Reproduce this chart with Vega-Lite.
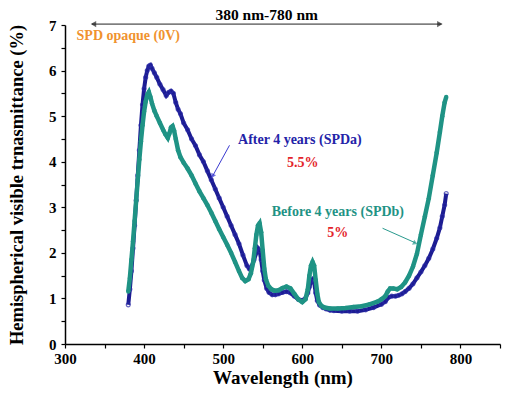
{
  "$schema": "https://vega.github.io/schema/vega-lite/v6.json",
  "width": 435,
  "height": 319,
  "autosize": "none",
  "padding": {"left": 65, "top": 25, "right": 8, "bottom": 52},
  "background": "white",
  "config": {"view": {"stroke": null}, "font": "Liberation Serif"},
  "datasets": {
    "spda": [
      {"wl":380,"t":0.86},{"wl":382,"t":1.2},{"wl":384,"t":1.6},{"wl":386,"t":2.1},{"wl":388,"t":2.6},{"wl":390,"t":3.15},{"wl":392,"t":3.7},{"wl":394,"t":4.25},{"wl":396,"t":4.8},{"wl":398,"t":5.25},{"wl":400,"t":5.6},{"wl":402,"t":5.85},{"wl":404,"t":6.0},{"wl":406,"t":6.1},{"wl":408,"t":6.12},{"wl":410,"t":6.05},{"wl":413,"t":5.95},{"wl":416,"t":5.85},{"wl":420,"t":5.7},{"wl":424,"t":5.58},{"wl":428,"t":5.45},{"wl":431,"t":5.52},{"wl":434,"t":5.55},{"wl":437,"t":5.5},{"wl":440,"t":5.3},{"wl":443,"t":5.15},{"wl":446,"t":5.05},{"wl":450,"t":4.85},{"wl":455,"t":4.7},{"wl":460,"t":4.5},{"wl":465,"t":4.35},{"wl":470,"t":4.15},{"wl":475,"t":4.0},{"wl":480,"t":3.8},{"wl":485,"t":3.6},{"wl":490,"t":3.4},{"wl":495,"t":3.2},{"wl":500,"t":3.0},{"wl":505,"t":2.8},{"wl":510,"t":2.6},{"wl":515,"t":2.4},{"wl":520,"t":2.2},{"wl":525,"t":1.95},{"wl":530,"t":1.72},{"wl":533,"t":1.65},{"wl":536,"t":1.7},{"wl":539,"t":1.85},{"wl":542,"t":2.0},{"wl":544,"t":2.1},{"wl":546,"t":2.05},{"wl":548,"t":1.85},{"wl":550,"t":1.6},{"wl":552,"t":1.4},{"wl":555,"t":1.22},{"wl":558,"t":1.13},{"wl":562,"t":1.08},{"wl":566,"t":1.08},{"wl":570,"t":1.1},{"wl":575,"t":1.13},{"wl":580,"t":1.15},{"wl":585,"t":1.12},{"wl":590,"t":1.05},{"wl":595,"t":0.98},{"wl":600,"t":0.96},{"wl":604,"t":1.0},{"wl":607,"t":1.12},{"wl":609,"t":1.25},{"wl":611,"t":1.38},{"wl":613,"t":1.42},{"wl":615,"t":1.35},{"wl":617,"t":1.12},{"wl":619,"t":0.95},{"wl":622,"t":0.85},{"wl":626,"t":0.8},{"wl":630,"t":0.77},{"wl":635,"t":0.74},{"wl":640,"t":0.73},{"wl":650,"t":0.72},{"wl":660,"t":0.72},{"wl":670,"t":0.72},{"wl":680,"t":0.75},{"wl":690,"t":0.8},{"wl":700,"t":0.87},{"wl":705,"t":0.93},{"wl":709,"t":1.02},{"wl":713,"t":1.05},{"wl":718,"t":1.05},{"wl":722,"t":1.07},{"wl":726,"t":1.1},{"wl":730,"t":1.15},{"wl":735,"t":1.22},{"wl":740,"t":1.32},{"wl":745,"t":1.45},{"wl":750,"t":1.58},{"wl":755,"t":1.72},{"wl":760,"t":1.88},{"wl":765,"t":2.08},{"wl":770,"t":2.32},{"wl":774,"t":2.55},{"wl":777,"t":2.8},{"wl":780,"t":3.05},{"wl":782,"t":3.3}
    ],
    "spdb": [
      {"wl":380,"t":1.15},{"wl":382,"t":1.45},{"wl":384,"t":1.85},{"wl":386,"t":2.25},{"wl":388,"t":2.7},{"wl":390,"t":3.15},{"wl":392,"t":3.6},{"wl":394,"t":4.05},{"wl":396,"t":4.45},{"wl":398,"t":4.8},{"wl":400,"t":5.1},{"wl":402,"t":5.32},{"wl":404,"t":5.47},{"wl":406,"t":5.53},{"wl":408,"t":5.42},{"wl":410,"t":5.28},{"wl":413,"t":5.12},{"wl":416,"t":5.0},{"wl":420,"t":4.85},{"wl":424,"t":4.7},{"wl":427,"t":4.6},{"wl":430,"t":4.52},{"wl":432,"t":4.62},{"wl":434,"t":4.75},{"wl":436,"t":4.78},{"wl":438,"t":4.68},{"wl":440,"t":4.5},{"wl":443,"t":4.25},{"wl":446,"t":4.1},{"wl":450,"t":3.98},{"wl":455,"t":3.85},{"wl":460,"t":3.7},{"wl":465,"t":3.52},{"wl":470,"t":3.35},{"wl":475,"t":3.2},{"wl":480,"t":3.05},{"wl":485,"t":2.88},{"wl":490,"t":2.7},{"wl":495,"t":2.52},{"wl":500,"t":2.35},{"wl":505,"t":2.18},{"wl":510,"t":2.0},{"wl":515,"t":1.8},{"wl":520,"t":1.6},{"wl":524,"t":1.45},{"wl":528,"t":1.38},{"wl":532,"t":1.42},{"wl":535,"t":1.55},{"wl":538,"t":1.8},{"wl":540,"t":2.1},{"wl":542,"t":2.4},{"wl":544,"t":2.6},{"wl":546,"t":2.65},{"wl":548,"t":2.45},{"wl":550,"t":2.05},{"wl":552,"t":1.65},{"wl":554,"t":1.42},{"wl":557,"t":1.28},{"wl":561,"t":1.2},{"wl":565,"t":1.17},{"wl":570,"t":1.18},{"wl":575,"t":1.23},{"wl":580,"t":1.26},{"wl":585,"t":1.22},{"wl":590,"t":1.1},{"wl":595,"t":0.98},{"wl":600,"t":0.92},{"wl":604,"t":0.98},{"wl":607,"t":1.2},{"wl":609,"t":1.5},{"wl":611,"t":1.72},{"wl":613,"t":1.8},{"wl":615,"t":1.72},{"wl":617,"t":1.4},{"wl":619,"t":1.1},{"wl":621,"t":0.92},{"wl":624,"t":0.84},{"wl":628,"t":0.8},{"wl":635,"t":0.78},{"wl":645,"t":0.78},{"wl":655,"t":0.79},{"wl":665,"t":0.81},{"wl":675,"t":0.83},{"wl":685,"t":0.87},{"wl":695,"t":0.93},{"wl":700,"t":0.98},{"wl":705,"t":1.05},{"wl":708,"t":1.15},{"wl":711,"t":1.22},{"wl":715,"t":1.22},{"wl":720,"t":1.2},{"wl":725,"t":1.25},{"wl":730,"t":1.35},{"wl":735,"t":1.5},{"wl":740,"t":1.7},{"wl":745,"t":1.98},{"wl":750,"t":2.4},{"wl":755,"t":2.8},{"wl":760,"t":3.2},{"wl":765,"t":3.7},{"wl":770,"t":4.2},{"wl":774,"t":4.65},{"wl":777,"t":5.0},{"wl":780,"t":5.3},{"wl":782,"t":5.42}
    ],
    "arrows": [
      {"id":"range","wl":334,"t":7.02,"wl2":776,"t2":7.02},
      {"id":"a","wl":508,"t":4.36,"wl2":486.5,"t2":3.68},
      {"id":"b","wl":701.5,"t":2.54,"wl2":743,"t2":2.22}
    ],
    "heads": [
      {"id":"left","wl":336,"t":7.02},
      {"id":"right","wl":774,"t":7.02},
      {"id":"a","wl":487,"t":3.7},
      {"id":"b","wl":742,"t":2.22}
    ],
    "labels": [
      {"kind":"range","label":"380 nm-780 nm","wl":555,"t":7.21},
      {"kind":"opaque","label":"SPD opaque (0V)","wl":380,"t":6.75},
      {"kind":"a","label":"After 4 years (SPDa)","wl":597,"t":4.47},
      {"kind":"pct","label":"5.5%","wl":600.5,"t":3.97},
      {"kind":"b","label":"Before 4 years (SPDb)","wl":645,"t":2.9},
      {"kind":"pct","label":"5%","wl":644.7,"t":2.43}
    ]
  },
  "encoding": {
    "x": {
      "field": "wl", "type": "quantitative",
      "scale": {"domain": [300, 850], "nice": false, "zero": false},
      "axis": {
        "title": "Wavelength (nm)",
        "values": [300,350,400,450,500,550,600,650,700,750,800,850],
        "labelExpr": "datum.value % 100 === 0 ? format(datum.value, 'd') : ''",
        "grid": false, "domainColor": "black", "domainWidth": 1.5,
        "tickColor": "black", "tickWidth": 1.2, "tickSize": 4,
        "labelFont": "Liberation Serif", "labelFontWeight": "bold", "labelFontSize": 15, "labelColor": "black",
        "labelPadding": 3, "labelFlush": false,
        "titleFont": "Liberation Serif", "titleFontWeight": "bold", "titleFontSize": 19, "titleColor": "black",
        "titlePadding": 2
      }
    },
    "y": {
      "field": "t", "type": "quantitative",
      "scale": {"domain": [0, 7], "nice": false},
      "axis": {
        "title": "Hemispherical visible trnasmittance (%)",
        "values": [0,0.5,1,1.5,2,2.5,3,3.5,4,4.5,5,5.5,6,6.5,7],
        "labelExpr": "datum.value % 1 === 0 ? format(datum.value, 'd') : ''",
        "grid": false, "domainColor": "black", "domainWidth": 1.5,
        "tickColor": "black", "tickWidth": 1.2, "tickSize": 4,
        "labelFont": "Liberation Serif", "labelFontWeight": "bold", "labelFontSize": 15, "labelColor": "black",
        "labelPadding": 5, "labelFlush": false,
        "titleFont": "Liberation Serif", "titleFontWeight": "bold", "titleFontSize": 18.5, "titleColor": "black",
        "titlePadding": 22
      }
    }
  },
  "layer": [
    {"data": {"name": "spda"}, "mark": {"type": "line", "color": "#1c1c92", "strokeWidth": 4}},
    {"data": {"name": "spda"}, "mark": {"type": "point", "filled": false, "color": "#2a2aa8", "size": 16, "strokeWidth": 1.2}},
    {"data": {"name": "spdb"}, "mark": {"type": "line", "color": "#1f9385", "strokeWidth": 4.5}},
    {"data": {"name": "spdb"}, "mark": {"type": "circle", "color": "#1f9385", "size": 20, "opacity": 1}},
    {"data": {"name": "arrows"}, "transform": [{"filter": "datum.id === 'range'"}], "mark": {"type": "rule", "color": "#222222", "strokeWidth": 1}, "encoding": {"x2": {"field": "wl2"}, "y2": {"field": "t2"}}},
    {"data": {"name": "arrows"}, "transform": [{"filter": "datum.id === 'a'"}], "mark": {"type": "rule", "color": "#3a3ad0", "strokeWidth": 1}, "encoding": {"x2": {"field": "wl2"}, "y2": {"field": "t2"}}},
    {"data": {"name": "arrows"}, "transform": [{"filter": "datum.id === 'b'"}], "mark": {"type": "rule", "color": "#2a9a8e", "strokeWidth": 1}, "encoding": {"x2": {"field": "wl2"}, "y2": {"field": "t2"}}},
    {"data": {"name": "heads"}, "transform": [{"filter": "datum.id === 'left'"}], "mark": {"type": "point", "shape": "triangle-left", "filled": true, "color": "#222222", "size": 40}},
    {"data": {"name": "heads"}, "transform": [{"filter": "datum.id === 'right'"}], "mark": {"type": "point", "shape": "triangle-right", "filled": true, "color": "#222222", "size": 40}},
    {"data": {"name": "heads"}, "transform": [{"filter": "datum.id === 'a'"}], "mark": {"type": "point", "shape": "triangle", "angle": 209, "filled": true, "color": "#3a3ad0", "size": 30}},
    {"data": {"name": "heads"}, "transform": [{"filter": "datum.id === 'b'"}], "mark": {"type": "point", "shape": "triangle", "angle": 114, "filled": true, "color": "#2a9a8e", "size": 30}},
    {"data": {"name": "labels"}, "transform": [{"filter": "datum.kind === 'range'"}], "mark": {"type": "text", "font": "Liberation Serif", "fontWeight": "bold", "fontSize": 15.5, "color": "black", "align": "center", "baseline": "middle"}, "encoding": {"text": {"field": "label"}}},
    {"data": {"name": "labels"}, "transform": [{"filter": "datum.kind === 'opaque'"}], "mark": {"type": "text", "font": "Liberation Serif", "fontWeight": "bold", "fontSize": 14, "color": "#f0922e", "align": "center", "baseline": "middle"}, "encoding": {"text": {"field": "label"}}},
    {"data": {"name": "labels"}, "transform": [{"filter": "datum.kind === 'a'"}], "mark": {"type": "text", "font": "Liberation Serif", "fontWeight": "bold", "fontSize": 14, "color": "#2323a8", "align": "center", "baseline": "middle"}, "encoding": {"text": {"field": "label"}}},
    {"data": {"name": "labels"}, "transform": [{"filter": "datum.kind === 'b'"}], "mark": {"type": "text", "font": "Liberation Serif", "fontWeight": "bold", "fontSize": 14, "color": "#1f9385", "align": "center", "baseline": "middle"}, "encoding": {"text": {"field": "label"}}},
    {"data": {"name": "labels"}, "transform": [{"filter": "datum.kind === 'pct'"}], "mark": {"type": "text", "font": "Liberation Serif", "fontWeight": "bold", "fontSize": 14, "color": "#e3242b", "align": "center", "baseline": "middle"}, "encoding": {"text": {"field": "label"}}}
  ]
}
